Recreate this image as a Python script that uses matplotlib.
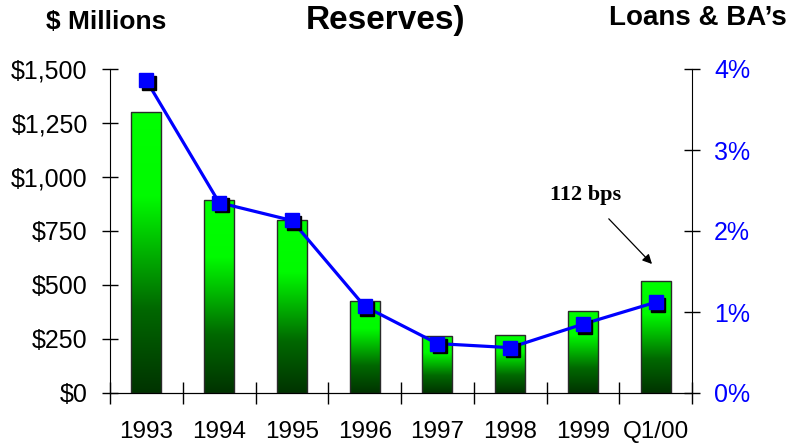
import numpy as np
import matplotlib
matplotlib.use("Agg")
import matplotlib.pyplot as plt
import matplotlib.transforms as mtransforms
from matplotlib.colors import LinearSegmentedColormap
from matplotlib.ticker import FuncFormatter

plt.rcParams["font.family"] = ["Liberation Sans", "DejaVu Sans"]

periods = ["1993", "1994", "1995", "1996", "1997", "1998", "1999", "Q1/00"]
reserves_mm = [1300, 895, 800, 425, 265, 270, 380, 520]          # $ millions (bars)
pct_of_loans = [3.86, 2.35, 2.13, 1.07, 0.61, 0.56, 0.85, 1.12]  # % of loans & BA's (line)

BLUE = "#0000ff"
green_cmap = LinearSegmentedColormap.from_list(
    "bar_green", [(0.0, "#003300"), (0.3, "#006800"), (0.55, "#00c400"),
                  (0.7, "#00fa00"), (1.0, "#00ff00")])

fig = plt.figure(figsize=(7.98, 4.45), dpi=100)
ax = fig.add_axes([110 / 798, 1 - 393 / 445, 582 / 798, 324 / 445])
ax2 = ax.twinx()

x = np.arange(len(periods))
width = 0.41

# gradient-filled bars: one image clipped to each bar rectangle
grad = np.linspace(0, 1, 256).reshape(-1, 1)
bars = ax.bar(x, reserves_mm, width, facecolor="none", edgecolor="#2a2a2a", lw=1.0, zorder=3)
for b in bars:
    x0, y0, w, h = b.get_x(), b.get_y(), b.get_width(), b.get_height()
    im = ax.imshow(grad, cmap=green_cmap, origin="lower", aspect="auto",
                   extent=(x0, x0 + w, y0, y0 + h), zorder=2)
    im.set_clip_path(b)

ax.set_xlim(-0.5, len(periods) - 0.5)
ax.set_ylim(0, 1500)

# left axis
ax.set_yticks(np.arange(0, 1501, 250))
ax.yaxis.set_major_formatter(FuncFormatter(lambda v, p: f"${v:,.0f}"))
ax.tick_params(axis="y", direction="inout", length=12, width=1, labelsize=18, pad=10)
ax.set_xticks(x)
ax.set_xticklabels(periods)
ax.tick_params(axis="x", which="major", length=0, labelsize=17.5, pad=20)
ax.set_xticks(np.arange(-0.5, len(periods)), minor=True)
ax.tick_params(axis="x", which="minor", direction="inout", length=16, width=1)
for s in ("top", "right"):
    ax.spines[s].set_visible(False)
ax2.spines["top"].set_visible(False)
ax2.spines["left"].set_visible(False)

# right axis: % of loans
ax2.set_ylim(0, 4)
ax2.set_yticks(range(5))
ax2.yaxis.set_major_formatter(FuncFormatter(lambda v, p: f"{v:.0f}%"))
ax2.tick_params(axis="y", direction="inout", length=12, width=1, labelsize=18,
                labelcolor=BLUE, pad=10)

ax2.plot(x, pct_of_loans, color=BLUE, lw=2.3, zorder=4)
shadow = mtransforms.offset_copy(ax2.transData, fig=fig, x=2.5, y=-2.5, units="dots")
ax2.plot(x, pct_of_loans, ls="none", marker="s", ms=9.5, color="black", transform=shadow, zorder=5)
ax2.plot(x, pct_of_loans, ls="none", marker="s", ms=9.5, color=BLUE, zorder=6)

ax2.annotate(f"{pct_of_loans[-1] * 100:.0f} bps", xy=(652, 445 - 264), xycoords="figure pixels",
             xytext=(586, 445 - 195), textcoords="figure pixels", ha="center", va="center",
             family=["Liberation Serif", "DejaVu Serif"], fontweight="bold", fontsize=16,
             arrowprops=dict(arrowstyle="-|>", color="black", lw=0.9, mutation_scale=14,
                             shrinkA=11, shrinkB=0))

fig.text(106 / 798, 1 - 22 / 445, "$ Millions", ha="center", va="center",
         fontsize=19, fontweight="bold")
fig.text(386 / 798, 1 - 21 / 445, "Reserves)", ha="center", va="center",
         fontsize=24, fontweight="bold")
fig.text(698 / 798, 1 - 18 / 445, "Loans & BA\u2019s", ha="center", va="center",
         fontsize=20, fontweight="bold")

fig.savefig("out.png", dpi=100)
